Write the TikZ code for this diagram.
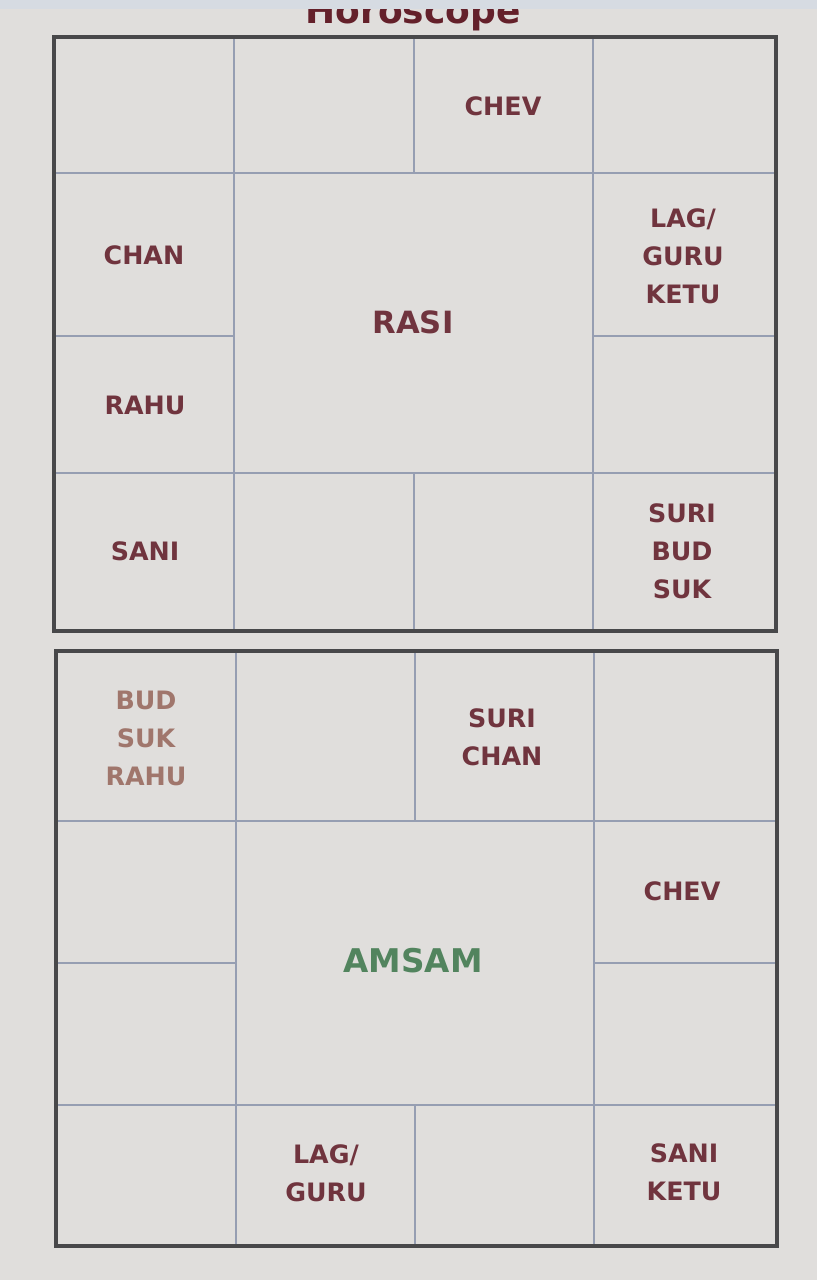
\documentclass[tikz,border=0pt]{standalone}
\usepackage{fontspec}
\setmainfont{DejaVu Sans}
\definecolor{bg}{RGB}{224,222,220}
\definecolor{topband}{RGB}{214,219,226}
\definecolor{frame}{RGB}{72,72,74}
\definecolor{grid}{RGB}{150,158,178}
\definecolor{lbl}{RGB}{112,52,62}
\definecolor{lbllight}{RGB}{160,118,108}
\definecolor{title}{RGB}{100,32,42}
\definecolor{amsam}{RGB}{82,132,94}
\tikzset{
  outer/.style={draw=frame, line width=2.4pt},
  inner/.style={draw=grid, line width=0.9pt},
  lab/.style={text=lbl, font=\bfseries\fontsize{19}{28.5}\selectfont, align=center, inner sep=0pt},
  big/.style={font=\bfseries\fontsize{23}{28}\selectfont, inner sep=0pt}
}
\begin{document}
\begin{tikzpicture}[x=0.75pt,y=-0.75pt]
\fill[bg] (0,0) rectangle (817,1280);
\useasboundingbox (0,0) rectangle (817,1280);
% title (cut off at the top)
\node[anchor=base, text=title, font=\bfseries\fontsize{27}{30}\selectfont, inner sep=0pt] (ttl) at (413,23.5) {Horoscope};
\fill[topband] (0,0) rectangle (817,9);
% ---------- RASI chart ----------
\draw[inner] (234,37) -- (234,631) (414,37) -- (414,173) (414,473) -- (414,631) (593,37) -- (593,631);
\draw[inner] (54,173) -- (776,173) (54,473) -- (776,473) (54,336) -- (234,336) (593,336) -- (776,336);
\draw[outer] (54,37) rectangle (776,631);
\node[lab] (r1) at (503,106) {CHEV};
\node[lab] (r2) at (144,255) {CHAN};
\node[lab] (r3) at (683,256) {LAG/\\GURU\\KETU};
\node[big, text=lbl] (rasi) at (413,322) {RASI};
\node[lab] (r4) at (145,405) {RAHU};
\node[lab] (r5) at (145,551) {SANI};
\node[lab] (r6) at (682,551) {SURI\\BUD\\SUK};
% ---------- AMSAM chart ----------
\draw[inner] (236,651) -- (236,1246) (415,651) -- (415,821) (415,1105) -- (415,1246) (594,651) -- (594,1246);
\draw[inner] (56,821) -- (777,821) (56,1105) -- (777,1105) (56,963) -- (236,963) (594,963) -- (777,963);
\draw[outer] (56,651) rectangle (777,1246);
\node[lab, text=lbllight] (a1) at (146,738) {BUD\\SUK\\RAHU};
\node[lab] (a2) at (502,737) {SURI\\CHAN};
\node[lab] (a3) at (682,891) {CHEV};
\node[big, text=amsam, font=\bfseries\fontsize{24.5}{28}\selectfont] (amsam) at (413,961) {AMSAM};
\node[lab] (a4) at (326,1173) {LAG/\\GURU};
\node[lab] (a5) at (684,1172) {SANI\\KETU};
\end{tikzpicture}
\end{document}
